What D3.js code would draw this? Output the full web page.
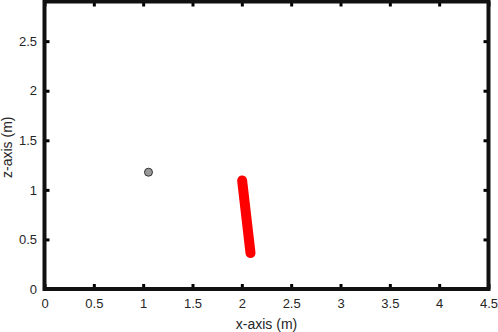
<!DOCTYPE html>
<html>
<head>
<meta charset="utf-8">
<script src="https://cdn.jsdelivr.net/npm/d3@7"></script>
<style>
  body { margin: 0; background: #fff; }
  svg text { font-family: "Liberation Sans", Arial, sans-serif; font-size: 13px; fill: #262626; }
  svg text.title { font-size: 14px; }
</style>
</head>
<body>
<div id="chart"></div>
<script>
// data
let xTicks = [0, 0.5, 1, 1.5, 2, 2.5, 3, 3.5, 4, 4.5];
let zTicks = [0, 0.5, 1, 1.5, 2, 2.5];
let pointX = [1.054];
let pointZ = [1.178];
let segmentX = [2.003, 2.088];
let segmentZ = [1.094, 0.362];

let margin = {top: 1.5, right: 9.5, bottom: 43, left: 44.5},
    width = 498 - margin.left - margin.right,
    height = 332 - margin.top - margin.bottom;

let svg = d3.select('#chart').append('svg')
    .attr('width', 498)
    .attr('height', 332)
    .append('g')
    .attr('transform', `translate(${margin.left},${margin.top})`);

let x = d3.scaleLinear().domain([0, 4.5]).range([0, width]);
let y = d3.scaleLinear().domain([0, 2.9]).range([height, 0]);

// ticks, drawn inward on all four sides
function tickMarks(axis, pos) {
    let g = svg.append('g').attr('transform', pos).call(axis);
    g.select('.domain').remove();
    g.selectAll('.tick line').attr('stroke', '#000').attr('stroke-width', 3);
    return g;
}

tickMarks(d3.axisBottom(x).tickValues(xTicks).tickSize(-5).tickPadding(10).tickFormat(d3.format('')), `translate(0,${height})`);
tickMarks(d3.axisLeft(y).tickValues(zTicks).tickSize(-5).tickPadding(7.5).tickFormat(d3.format('')), 'translate(0,0)');
tickMarks(d3.axisTop(x).tickValues(xTicks).tickSize(-5).tickFormat(''), 'translate(0,0)');
tickMarks(d3.axisRight(y).tickValues(zTicks).tickSize(-5).tickFormat(''), `translate(${width},0)`);
svg.selectAll('.tick text').attr('fill', '#262626');

// red segment
let line = d3.line().x(d => x(d[0])).y(d => y(d[1]));
svg.append('path')
    .datum(segmentX.map((v, i) => [v, segmentZ[i]]))
    .attr('d', line)
    .attr('fill', 'none')
    .attr('stroke', '#ff0000')
    .attr('stroke-width', 10)
    .attr('stroke-linecap', 'round');

// gray point
svg.selectAll('.pt')
    .data(pointX.map((v, i) => [v, pointZ[i]]))
    .enter().append('circle')
    .attr('cx', d => x(d[0]))
    .attr('cy', d => y(d[1]))
    .attr('r', 4)
    .attr('fill', '#999')
    .attr('stroke', '#333')
    .attr('stroke-width', 1);

// box
svg.append('rect')
    .attr('width', width)
    .attr('height', height)
    .attr('fill', 'none')
    .attr('stroke', '#111')
    .attr('stroke-width', 4);

// axis titles
svg.append('text')
    .attr('class', 'title')
    .attr('x', width / 2)
    .attr('y', height + 40)
    .attr('text-anchor', 'middle')
    .text('x-axis (m)');

svg.append('text')
    .attr('class', 'title')
    .attr('transform', 'rotate(-90)')
    .attr('x', -height / 2 - 2)
    .attr('y', -32.5)
    .attr('text-anchor', 'middle')
    .text('z-axis (m)');
</script>
</body>
</html>
